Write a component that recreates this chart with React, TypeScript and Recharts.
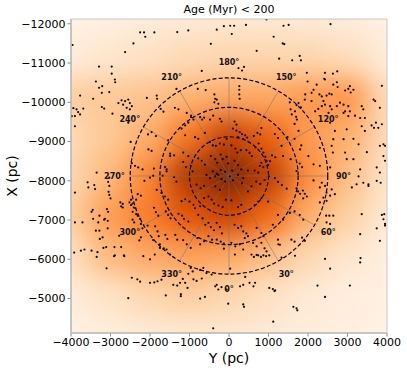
import React from "react";
import {
  ScatterChart,
  Scatter,
  XAxis,
  YAxis,
  CartesianGrid,
  ReferenceLine,
  ReferenceArea,
} from "recharts";

const W = 407;
const H = 372;
const MARGIN = { top: 19, right: 20, bottom: 0, left: 11 };
const Y_AXIS_W = 60;
const X_AXIS_H = 39;
const PLOT_W = W - MARGIN.left - MARGIN.right - Y_AXIS_W;
const PLOT_H = H - MARGIN.top - MARGIN.bottom - X_AXIS_H;

// galactic Y (horizontal) and X (vertical, reversed), in pc
const Y_DOMAIN = [-4000, 4000];
const X_DOMAIN = [-12122, -4122];
const Y_TICKS = [-4000, -3000, -2000, -1000, 0, 1000, 2000, 3000, 4000];
const X_TICKS = [-12000, -11000, -10000, -9000, -8000, -7000, -6000, -5000];

const SUN_X = -8122;
const RINGS = [1000, 1750, 2500];
const SPOKES = [0, 30, 60, 90, 120, 150, 180, 210, 240, 270, 300, 330];
const SPOKE_LEN = 2500;
const LABEL_R = 2900;

// density map on a 1 kpc grid (0 = lightest, 1 = darkest)
const HEAT_STEP = 1000;
const HEAT_Y = [-4000, -3000, -2000, -1000, 0, 1000, 2000, 3000, 4000];
const HEAT_X = [-12100, -11100, -10100, -9100, -8100, -7100, -6100, -5100, -4100];
const HEAT = [
  [0.03, 0.05, 0.08, 0.1, 0.12, 0.12, 0.1, 0.08, 0.05],
  [0.08, 0.13, 0.16, 0.2, 0.22, 0.22, 0.22, 0.18, 0.08],
  [0.26, 0.28, 0.3, 0.36, 0.4, 0.4, 0.45, 0.47, 0.2],
  [0.2, 0.28, 0.38, 0.58, 0.8, 0.66, 0.45, 0.37, 0.2],
  [0.22, 0.34, 0.53, 0.85, 1.0, 0.82, 0.5, 0.32, 0.15],
  [0.26, 0.44, 0.56, 0.7, 0.78, 0.62, 0.38, 0.25, 0.11],
  [0.17, 0.34, 0.4, 0.43, 0.4, 0.32, 0.21, 0.13, 0.06],
  [0.08, 0.15, 0.22, 0.26, 0.22, 0.16, 0.1, 0.06, 0.04],
  [0.04, 0.07, 0.1, 0.12, 0.12, 0.1, 0.07, 0.05, 0.03],
];

// stars [Y, X] in pc
const STARS_TOP = [
  [-3960, -11460], [-2630, -11280], [-2420, -11500], [-2250, -11780], [-2150, -11780], [-2120, -11670],
  [-1890, -11780], [-1310, -11790], [-1030, -11830], [-460, -11490], [-310, -11850], [-130, -11940],
  [30, -11950], [130, -11950], [70, -11740], [430, -11970], [950, -12110], [1130, -11670], [1380, -11950],
  [1510, -11970], [1360, -11500], [1400, -11480], [700, -11310], [2570, -11990], [1790, -11180],
  [1600, -11070], [1820, -11070], [1270, -11110], [240, -10870], [330, -10810], [380, -10900],
  [-690, -10800], [-3290, -10910], [-2970, -10910], [-2970, -10730], [-2890, -10580], [-2880, -10510],
  [-3370, -10530], [1970, -10750], [2430, -10750], [2630, -10730], [2740, -10790],
];

const STARS_WEST = [
  [-3290, -10370], [-3210, -10410], [-3220, -10240], [-3030, -10260], [-3770, -10170], [-3440, -10090],
  [-3220, -9880], [-3160, -9840], [-2950, -9710], [-3940, -9850], [-3860, -9820], [-3820, -9750],
  [-3770, -9690], [-3900, -9650], [-3980, -9650], [-3900, -9390], [-3690, -9840], [-2800, -9980],
  [-2720, -10050], [-2630, -10030], [-2550, -10070], [-2510, -9980], [-2460, -9900], [-2680, -9940],
  [-2590, -9860], [-2510, -9820], [-2080, -10110], [-2550, -9480], [-2490, -8990], [-2040, -8800],
  [-1960, -8760], [-2460, -8450], [-2380, -8380], [-2300, -8340], [-2190, -8290], [-3350, -8210],
  [-2000, -8080], [-2050, -9180],
];

const STARS_CORE_N = [
  [-1830, -10170], [-1820, -10090], [-1330, -10340], [-1370, -9860], [-1280, -9820], [-790, -10340],
  [-590, -10310], [-370, -10200], [-350, -10090], [-370, -10000], [-1070, -9730], [-960, -9660],
  [-1110, -9410], [-1030, -9480], [-1490, -8630], [-1160, -8720], [-1030, -8630], [-1580, -8290],
  [-1920, -8130], [-1730, -9830], [-1660, -9760], [-960, -9620], [-900, -9560], [-730, -9620],
  [-680, -9560], [-630, -9610], [-480, -9560], [-400, -9660], [-230, -9580], [-190, -9510],
  [-310, -10070], [-270, -9960], [-1200, -9330], [-1960, -9240], [-1850, -9140], [-1540, -9030],
  [-1110, -9160], [-860, -9110], [-780, -9070], [-610, -9220], [-480, -8990], [-410, -8900],
  [-330, -8890], [-230, -8950], [-130, -8920], [-60, -9070], [-1490, -8690], [-1390, -8650],
  [-1160, -8480], [-1090, -8350], [-970, -8380], [-920, -8240], [-780, -8570], [-690, -8510],
  [-610, -8410], [-460, -8630], [-350, -8550], [-300, -8460], [-210, -8670], [-160, -8550],
  [-60, -8610], [-20, -8440], [-100, -8230], [-210, -8270], [-310, -8180], [-410, -8240],
  [-1620, -8350], [-1580, -8240], [-1900, -8310], [270, -10090], [260, -10410], [260, -10320],
  [260, -10200], [1710, -9930], [1760, -9980], [1820, -9870], [1920, -10070], [1540, -10000],
  [1660, -9450], [1720, -9560], [140, -9510], [190, -9430], [100, -9330], [190, -9280], [270, -9240],
  [330, -9190], [410, -9160], [230, -9110], [360, -9070], [460, -9100], [630, -9140], [720, -9220],
  [790, -9180], [820, -9340], [1160, -9190], [1240, -9090], [1480, -9110], [1330, -8890],
  [1660, -9070], [1830, -8900], [60, -8900], [160, -8820], [210, -8720], [300, -8780], [440, -8780],
  [520, -8710], [580, -8630], [670, -8850], [750, -8950], [820, -8820], [870, -8720], [920, -8610],
  [950, -8510], [820, -8460], [780, -8380], [870, -8350], [990, -8400], [1040, -8500], [1090, -8650],
  [1170, -8600], [1370, -8630], [1560, -8550], [1790, -8440], [1850, -8350], [140, -8510],
  [230, -8400], [310, -8290], [80, -8260], [480, -8260], [650, -8260], [740, -8210], [1560, -9820],
  [1670, -9770], [1590, -9690], [1700, -9630], [1760, -9270],
];

const STARS_EAST = [
  [2430, -10580], [2640, -10450], [2140, -10320], [2090, -10240], [1930, -10200], [2090, -10030],
  [2290, -10200], [2350, -10150], [2390, -10030], [2470, -10170], [2540, -10220], [2600, -10200],
  [2430, -9940], [2350, -9900], [2260, -9830], [2180, -9770], [2560, -9900], [2600, -9820],
  [2730, -9900], [2810, -9990], [2900, -9940], [3020, -9900], [3060, -9770], [2940, -9770],
  [3060, -10410], [3150, -10320], [3360, -9900], [3400, -9820], [3660, -10070], [3700, -10030],
  [3820, -9860], [3870, -10420], [3190, -9660], [3320, -9600], [3440, -9600], [3020, -9650],
  [2900, -9730], [2520, -9730], [2560, -9480], [2680, -9270], [2640, -9060], [2900, -9060],
  [2980, -9310], [3150, -9070], [3280, -8930], [3360, -9390], [3440, -9270], [3610, -9410],
  [3670, -9350], [3720, -9480], [3780, -9350], [3870, -9440], [3820, -8890], [3910, -8930],
  [1990, -10530], [2220, -10450], [2410, -10600], [2730, -10510], [2750, -10390], [2940, -10300],
  [3020, -10340], [3080, -10250], [2300, -8840], [2600, -8890], [2630, -8720], [2010, -8630],
  [2140, -8420], [2300, -8380], [2940, -8720], [3150, -8550], [3320, -8290], [3740, -8340],
  [3820, -8210], [3950, -8890], [1710, -8250], [1800, -8800], [3910, -8630], [3950, -8510],
  [3490, -8730], [3280, -8110], [3530, -7910], [3740, -8000], [2980, -8550], [2560, -8340],
  [2140, -8010],
];

const STARS_SOUTHWEST = [
  [-3900, -7700], [-3580, -7960], [-3410, -7890], [-3060, -7970], [-3030, -7870], [-3050, -7720],
  [-3030, -7640], [-3000, -7550], [-3450, -7260], [-3710, -6940], [-3280, -7110], [-3160, -7010],
  [-3070, -6980], [-3090, -7280], [-3060, -7210], [-2750, -7450], [-2690, -7410], [-2690, -7320],
  [-2730, -7350], [-2520, -7450], [-2480, -7380], [-2440, -7420], [-2410, -7320], [-2370, -7300],
  [-2480, -7520], [-2350, -7520], [-2310, -7660], [-2230, -7620], [-2440, -7210], [-2350, -7150],
  [-2310, -7110], [-2250, -7030], [-2440, -7010], [-2400, -6940], [-2230, -6900], [-2190, -6790],
  [-2060, -6860], [-3370, -6730], [-3280, -6730], [-3070, -6790], [-2730, -6310], [-2900, -6310],
  [-3180, -6290], [-3110, -6310], [-3330, -6180], [-3480, -6220], [-3660, -6250], [-3750, -6220],
  [-3920, -6170], [-2650, -6080], [-2780, -6600], [-2270, -6480], [-2230, -6560], [-3030, -8080],
  [-2140, -8000], [-3560, -7830], [-3390, -7790], [-3480, -7210], [-3440, -7030], [-3310, -6940],
  [-3270, -6520], [-3200, -6560], [-3140, -7030], [-3350, -6060], [-3100, -5770], [-2910, -6080],
  [-2550, -5010], [-2460, -5530], [-2320, -5490], [-2250, -5430], [-2170, -6080], [-2000, -6000],
  [-3900, -6940], [-2890, -6100], [-2660, -6100],
];

const STARS_CORE_S = [
  [-1680, -8130], [-1390, -8090], [-1330, -7980], [-570, -8150], [-480, -8070], [-350, -8110],
  [-270, -8150], [-190, -8040], [-100, -7980], [-820, -7900], [-720, -7810], [-630, -7870],
  [-350, -7860], [-230, -7770], [-1830, -7770], [-1710, -7690], [-1620, -7600], [-1540, -7520],
  [-1200, -7480], [-1110, -7530], [-1000, -7470], [-900, -7390], [-860, -7300], [-730, -7350],
  [-630, -7560], [-520, -7600], [-440, -7520], [-380, -7420], [-270, -7370], [-160, -7330],
  [-80, -7520], [-1900, -7310], [-1850, -7200], [-1790, -7110], [-1600, -7220], [-1540, -7130],
  [-1480, -7040], [-1280, -7160], [-1190, -7110], [-1140, -7030], [-1030, -6960], [-780, -7130],
  [-670, -7040], [-600, -6880], [-520, -6930], [-460, -6820], [-380, -6740], [-310, -6930],
  [-230, -6820], [-180, -6660], [-1870, -6840], [-1810, -6710], [-1780, -6590], [-1920, -6490],
  [-1610, -6620], [-1560, -6520], [-1360, -6620], [-1310, -6500], [-1160, -6490], [-1070, -6380],
  [-970, -6290], [-800, -6540], [-730, -6380], [-630, -6460], [-520, -6590], [-430, -6500],
  [-310, -6500], [-210, -6450], [-130, -6400], [-1750, -6380], [-1650, -6280], [-130, -6270],
  [20, -8110], [100, -8010], [230, -8150], [330, -7940], [360, -8070], [570, -7860], [480, -7730],
  [690, -7980], [790, -7920], [900, -8020], [1010, -8110], [1160, -8070], [1240, -7970],
  [1340, -7890], [1460, -7800], [1710, -7810], [1750, -7730], [1800, -7670], [1870, -7750],
  [1920, -7670], [1970, -7600], [1880, -7550], [820, -7560], [740, -7470], [650, -7380],
  [990, -7470], [310, -7390], [230, -7330], [60, -7500], [1240, -7130], [1370, -7010], [1540, -7180],
  [1660, -7220], [1790, -7130], [1880, -7010], [140, -6880], [230, -6800], [310, -6840], [360, -6710],
  [440, -6660], [480, -6590], [400, -6540], [700, -6800], [820, -6670], [870, -6590], [1110, -6880],
  [60, -6420], [160, -6330], [270, -6380], [360, -6250], [610, -6420], [700, -6330], [820, -6420],
  [900, -6280], [950, -6200], [1240, -6500], [1290, -6370], [1580, -6500], [1660, -6450],
  [1850, -6550], [1920, -6470],
];

const STARS_SOUTH = [
  [-1880, -6120], [-1750, -6290], [-1580, -6250], [-1490, -6120], [-2000, -5400], [-1890, -5410],
  [-1810, -5440], [-1710, -5480], [-1600, -5080], [-1220, -5110], [-1220, -5060], [-1410, -5350],
  [-1310, -5330], [-1240, -5400], [-1170, -5500], [-1110, -5400], [-1050, -5270], [-1030, -5630],
  [-900, -5490], [-820, -5450], [-730, -5730], [-650, -5780], [-570, -5650], [-690, -5510],
  [-440, -5610], [-350, -5310], [-310, -5350], [-270, -5230], [-190, -5290], [-60, -5230],
  [-730, -5000], [-400, -4240], [-970, -5780], [-920, -5690], [-610, -5040], [-20, -4870],
  [360, -4850], [520, -5400], [660, -5400], [1110, -5240], [1150, -5190], [410, -5550], [630, -6060],
  [740, -6100], [810, -6060], [870, -6100], [1020, -6100], [1630, -4790], [1710, -4750],
  [1120, -4410], [1020, -5270], [1170, -5210], [620, -5310], [360, -5350], [280, -5310],
  [380, -4790], [30, -5760], [1330, -6040], [940, -6080], [1250, -6380], [570, -6120], [700, -6110],
  [150, -6120], [1670, -6090],
];

const STARS_SOUTHEAST = [
  [2350, -7950], [2430, -7870], [2300, -7830], [2470, -7700], [2560, -7620], [2600, -7780],
  [2680, -7660], [3110, -7830], [3230, -7910], [3400, -7950], [3530, -7870], [3840, -7950],
  [2300, -7450], [2390, -7570], [2470, -7490], [2460, -7110], [2540, -7110], [2640, -7110],
  [2470, -6940], [2560, -6900], [3360, -7150], [3870, -7130], [3930, -7150], [3910, -7020],
  [3950, -6900], [3740, -6790], [3320, -6640], [3820, -6470], [2430, -6010], [2560, -5760],
  [3320, -5920], [3060, -5330], [2240, -5330], [2430, -5040], [1730, -4700], [3950, -6860],
  [3330, -6030],
];

const ORANGES = ["#fff5eb", "#fee6ce", "#fdd0a2", "#fdae6b", "#fd8d3c", "#f16913", "#d94801", "#a63603", "#7f2704"];

function hexToRgb(h: string) {
  return [1, 3, 5].map((i) => parseInt(h.slice(i, i + 2), 16));
}

function oranges(v: number) {
  const t = Math.max(0, Math.min(1, v)) * (ORANGES.length - 1);
  const i = Math.min(ORANGES.length - 2, Math.floor(t));
  const f = t - i;
  const a = hexToRgb(ORANGES[i]);
  const b = hexToRgb(ORANGES[i + 1]);
  const c = a.map((v0, k) => Math.round(v0 + (b[k] - v0) * f));
  return `rgb(${c[0]},${c[1]},${c[2]})`;
}

function formatTick(v: number) {
  return v < 0 ? `\u2212${Math.abs(v)}` : `${v}`;
}

const rad = (deg: number) => (deg * Math.PI) / 180;

const heatData = HEAT_X.flatMap((gx, i) => HEAT_Y.map((gy, j) => ({ gy, gx, v: HEAT[i][j] })));
const starData = [
  ...STARS_TOP,
  ...STARS_WEST,
  ...STARS_CORE_N,
  ...STARS_EAST,
  ...STARS_SOUTHWEST,
  ...STARS_CORE_S,
  ...STARS_SOUTH,
  ...STARS_SOUTHEAST,
].map(([gy, gx]) => ({ gy, gx }));
const labelData = SPOKES.map((a) => ({
  gy: LABEL_R * Math.sin(rad(a)),
  gx: SUN_X + LABEL_R * Math.cos(rad(a)),
  text: `${a}°`,
}));

const cellW = (PLOT_W * HEAT_STEP) / (Y_DOMAIN[1] - Y_DOMAIN[0]);
const cellH = (PLOT_H * HEAT_STEP) / (X_DOMAIN[1] - X_DOMAIN[0]);

export default function App() {
  return (
    <div style={{ position: "absolute", left: 0, top: 0, width: W, height: H, background: "#fff", fontFamily: "'DejaVu Sans', sans-serif" }}>
      <style>{`.heat-layer { filter: url(#heat-blur); }`}</style>
      <svg width={0} height={0} style={{ position: "absolute" }}>
        <defs>
          <filter id="heat-blur" x="-20%" y="-20%" width="140%" height="140%" colorInterpolationFilters="sRGB">
            <feGaussianBlur stdDeviation={13} />
          </filter>
        </defs>
      </svg>
      <ScatterChart width={W} height={H} margin={MARGIN}>
        <CartesianGrid horizontal={false} vertical={false} fill="#fff5eb" />
        <XAxis
          type="number"
          dataKey="gy"
          domain={Y_DOMAIN}
          ticks={Y_TICKS}
          interval={0}
          allowDataOverflow
          height={X_AXIS_H}
          tickSize={3.5}
          tickFormatter={formatTick}
          tick={{ fill: "#000", fontSize: 11 }}
          axisLine={{ stroke: "#8c8c8c" }}
          tickLine={{ stroke: "#8c8c8c" }}
          label={{ value: "Y (pc)", position: "insideBottom", offset: 9, fill: "#000", fontSize: 14 }}
        />
        <YAxis
          type="number"
          dataKey="gx"
          domain={X_DOMAIN}
          reversed
          ticks={X_TICKS}
          interval={0}
          allowDataOverflow
          width={Y_AXIS_W}
          tickSize={3.5}
          tickFormatter={formatTick}
          tick={{ fill: "#000", fontSize: 11 }}
          axisLine={{ stroke: "#8c8c8c" }}
          tickLine={{ stroke: "#8c8c8c" }}
          label={{
            value: "X (pc)",
            angle: -90,
            position: "insideLeft",
            offset: 1,
            fill: "#000",
            fontSize: 14,
            style: { textAnchor: "middle" },
          }}
        />
        <Scatter
          data={heatData}
          className="heat-layer"
          isAnimationActive={false}
          zIndex={-50}
          shape={(p: any) => (
            <rect
              x={p.cx - cellW / 2 - 0.5}
              y={p.cy - cellH / 2 - 0.5}
              width={cellW + 1}
              height={cellH + 1}
              fill={oranges(p.payload.v)}
            />
          )}
        />
        {SPOKES.map((a) => (
          <ReferenceLine
            key={`spoke-${a}`}
            ifOverflow="visible"
            zIndex={440}
            segment={[
              { x: 0, y: SUN_X },
              { x: SPOKE_LEN * Math.sin(rad(a)), y: SUN_X + SPOKE_LEN * Math.cos(rad(a)) },
            ]}
            stroke="#6e6e6e"
            strokeOpacity={0.55}
            strokeWidth={0.9}
          />
        ))}
        {RINGS.map((r) => (
          <ReferenceArea
            key={`ring-${r}`}
            x1={-r}
            x2={r}
            y1={SUN_X - r}
            y2={SUN_X + r}
            ifOverflow="visible"
            zIndex={450}
            shape={(p: any) => (
              <ellipse
                cx={p.x + p.width / 2}
                cy={p.y + p.height / 2}
                rx={Math.abs(p.width) / 2}
                ry={Math.abs(p.height) / 2}
                fill="none"
                stroke="#000"
                strokeWidth={1.2}
                strokeDasharray="4 2.2"
              />
            )}
          />
        ))}
        <Scatter
          data={starData}
          isAnimationActive={false}
          zIndex={600}
          shape={(p: any) => <circle cx={p.cx} cy={p.cy} r={1.1} fill="#0a0a0a" />}
        />
        <Scatter
          data={labelData}
          isAnimationActive={false}
          zIndex={700}
          shape={(p: any) => (
            <text
              x={p.cx}
              y={p.cy}
              textAnchor="middle"
              dominantBaseline="central"
              fontSize={8}
              fontWeight="bold"
              fill="#111"
            >
              {p.payload.text}
            </text>
          )}
        />
        <ReferenceArea
          x1={Y_DOMAIN[0]}
          x2={Y_DOMAIN[1]}
          y1={X_DOMAIN[0]}
          y2={X_DOMAIN[1]}
          ifOverflow="visible"
          zIndex={650}
          fill="none"
          fillOpacity={0}
          stroke="#c8c8c8"
          strokeWidth={1}
          label={{ value: "Age (Myr) < 200", position: "top", offset: 6, fill: "#000", fontSize: 11 }}
        />
      </ScatterChart>
    </div>
  );
}
